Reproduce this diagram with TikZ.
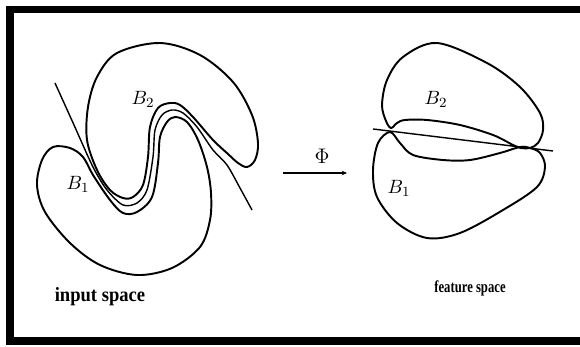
\documentclass[tikz,border=0pt]{standalone}
\usepackage{fontspec}
\newfontfamily\capfont{Liberation Serif}
\usetikzlibrary{arrows.meta}

\begin{document}
\begin{tikzpicture}[
  x=0.02cm, y=-0.02cm,
  blob/.style={line width=1.1pt, line join=round},
  sep/.style={line width=0.8pt},
  lbl/.style={inner sep=0pt, font=\fontsize{11}{13}\selectfont},
  spacelbl/.style={inner sep=0pt},
  arr/.style={-{Stealth[length=3pt, width=2.6pt]}, line width=1.1pt}
]
  \clip (0,0) rectangle (580,347);
  % frame, open on the right
  \draw[line width=4pt] (600,9.5) -- (10,9.5) -- (10,341) -- (600,341);

  % input space: the two hooked classes
  \draw[blob] plot[smooth cycle, tension=0.55] coordinates {
    (160,43) (200,55) (233,82) (252,115) (258,143) (255,160) (247,167)
    (238,163) (228,154) (213,140) (193,117) (180,105) (170,103) (158,108)
    (150,127) (148,157) (143,185) (133,197) (123,198) (110,190) (97,170)
    (87,140) (88,107) (97,77) (117,53)};
  \draw[blob] plot[smooth cycle, tension=0.55] coordinates {
    (53,147) (70,148) (83,157) (93,175) (110,200) (123,213) (137,212)
    (152,197) (158,163) (160,137) (167,122) (175,117) (187,122) (198,140)
    (207,167) (211,193) (210,220) (200,247) (172,268) (137,275) (100,265)
    (70,243) (45,212) (37,185) (42,160)};
  % separating curve
  \draw[sep] plot[smooth, tension=0.5] coordinates {
    (55,83) (74,125) (93,167) (107,190) (123,205) (137,203) (147,190)
    (153,157) (155,130) (162,115) (172,110) (183,113) (197,127) (213,150)
    (227,165) (240,188) (252,210)};
  \node[lbl] (b2in) at (143,99) {$B_2$};
  \node[lbl] (b1in) at (78,184) {$B_1$};

  % the map
  \coordinate (phis) at (283,173);
  \coordinate (phie) at (347,173);
  \draw[arr] (phis) -- (phie);
  \node[lbl, font=\fontsize{12}{14}\selectfont] (phi) at (322,156) {$\Phi$};

  % feature space
  \draw[blob] plot[smooth cycle, tension=0.55] coordinates {
    (437,43) (487,63) (520,87) (540,113) (543,130) (538,143) (530,148)
    (521,148) (513,145) (493,135) (460,125) (427,120) (405,120) (397,123)
    (391,128) (386,121) (382,105) (387,80) (403,57)};
  \draw[blob] plot[smooth cycle, tension=0.55] coordinates {
    (390,132) (378,143) (373,170) (377,197) (397,223) (427,238) (460,233)
    (503,210) (537,187) (545,167) (540,153) (530,148) (520,147) (500,153)
    (470,160) (443,160) (413,155) (400,143)};
  \draw[sep] (373,129) -- (553,151);
  \node[lbl] (b2out) at (436,99) {$B_2$};
  \node[lbl] (b1out) at (399,188) {$B_1$};

  \node[spacelbl, font=\capfont\bfseries\fontsize{11.5}{13}\selectfont, xscale=0.92]
    (inlbl) at (100,297) {input space};
  \node[spacelbl, font=\capfont\bfseries\fontsize{9.5}{11}\selectfont, xscale=0.76]
    (featlbl) at (470,288) {feature space};
\end{tikzpicture}
\end{document}
